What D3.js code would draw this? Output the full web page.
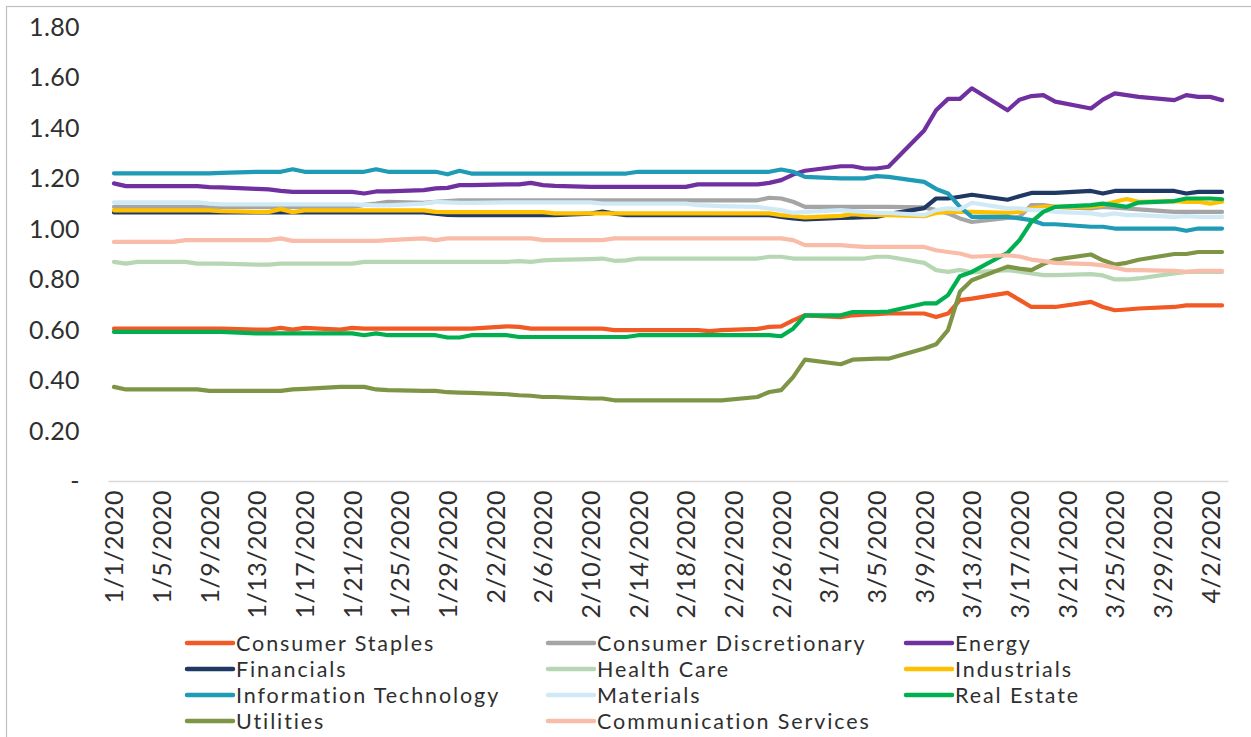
<!DOCTYPE html>
<html>
<head>
<meta charset="utf-8">
<script src="https://cdn.jsdelivr.net/npm/d3@7"></script>
<style>
  html, body { margin: 0; padding: 0; background: #fff; }
  svg { display: block; }
  text { font-family: Lato, "Noto Sans", sans-serif; fill: #2f2f2f; }
</style>
</head>
<body>
<svg id="chart" width="1251" height="737"></svg>
<script>
// ---------------- DATA ----------------
const dates = ["1/1/2020","1/2/2020","1/3/2020","1/6/2020","1/7/2020","1/8/2020","1/9/2020","1/10/2020",
"1/13/2020","1/14/2020","1/15/2020","1/16/2020","1/17/2020","1/20/2020","1/21/2020","1/22/2020","1/23/2020",
"1/24/2020","1/27/2020","1/28/2020","1/29/2020","1/30/2020","1/31/2020","2/3/2020","2/4/2020","2/5/2020",
"2/6/2020","2/7/2020","2/10/2020","2/11/2020","2/12/2020","2/13/2020","2/14/2020","2/17/2020","2/18/2020",
"2/19/2020","2/20/2020","2/21/2020","2/24/2020","2/25/2020","2/26/2020","2/27/2020","2/28/2020","3/2/2020",
"3/3/2020","3/4/2020","3/5/2020","3/6/2020","3/9/2020","3/10/2020","3/11/2020","3/12/2020","3/13/2020",
"3/16/2020","3/17/2020","3/18/2020","3/19/2020","3/20/2020","3/23/2020","3/24/2020","3/25/2020","3/26/2020",
"3/27/2020","3/30/2020","3/31/2020","4/1/2020","4/2/2020","4/3/2020"];

const consumerStaples = [
0.604,0.604,0.604,0.604,0.604,0.604,0.604,0.604,
0.600,0.600,0.607,0.600,0.607,0.600,0.607,
0.604,0.604,0.604,0.604,0.604,0.604,0.604,0.604,
0.613,0.611,0.604,0.604,0.604,0.604,0.604,
0.598,0.598,0.598,0.598,0.598,0.598,
0.594,0.598,0.603,0.611,0.613,0.637,0.657,
0.650,0.657,0.660,0.662,0.664,0.664,0.650,0.664,0.717,0.723,
0.746,0.718,0.690,0.690,0.690,0.710,0.690,0.677,0.680,0.684,0.690,0.696,0.696,0.696,0.696];

const consumerDiscretionary = [
1.087,1.087,1.087,1.087,1.087,1.087,1.087,1.087,1.087,1.087,1.087,1.087,1.087,1.087,1.087,
1.095,1.100,1.107,1.103,1.107,1.110,1.113,1.113,
1.113,1.113,1.113,1.113,1.113,1.113,1.113,1.113,1.113,1.113,1.113,1.113,1.113,1.113,1.113,1.113,
1.123,1.120,1.107,1.087,
1.087,1.087,1.087,1.087,1.087,1.085,
1.074,1.061,1.041,1.027,
1.043,1.047,1.094,1.094,1.087,1.081,1.087,1.084,1.081,1.077,1.067,1.067,1.067,1.067,1.067];

const energy = [
1.180,1.169,1.169,1.169,1.169,1.169,1.165,1.164,1.158,1.156,1.150,1.146,1.146,1.146,1.146,
1.140,1.148,1.148,1.153,1.160,1.162,1.173,1.173,1.176,1.176,1.182,1.173,1.170,
1.166,1.166,1.166,1.166,1.166,1.166,1.166,
1.176,1.176,1.176,1.176,1.182,1.193,1.215,1.230,
1.248,1.248,1.239,1.239,1.246,
1.390,1.470,1.515,1.515,1.557,
1.470,1.512,1.526,1.530,1.504,
1.477,1.512,1.537,1.530,1.523,
1.510,1.530,1.523,1.523,1.510];

const financials = [
1.065,1.065,1.065,1.065,1.065,1.065,1.065,1.065,1.065,1.065,1.065,1.065,1.065,1.065,1.065,1.065,1.065,1.065,1.065,
1.060,1.055,
1.054,1.054,1.054,1.054,1.054,1.054,1.054,
1.060,1.068,1.060,
1.054,1.054,1.054,1.054,1.054,1.054,1.054,1.054,1.054,
1.047,1.041,1.037,
1.043,1.044,1.046,1.047,1.058,
1.082,1.120,1.120,1.127,1.135,
1.115,1.129,1.142,1.142,1.142,
1.150,1.140,1.150,1.150,1.150,
1.150,1.140,1.146,1.146,1.146];

const healthCare = [
0.869,0.862,0.869,0.869,0.869,0.862,0.862,0.862,0.858,0.858,
0.862,0.862,0.862,0.862,0.862,
0.869,0.869,0.869,0.869,0.869,0.869,0.869,0.869,0.869,
0.872,0.869,0.875,0.877,0.880,0.882,0.873,0.875,
0.882,0.882,0.882,0.882,0.882,0.882,0.882,
0.889,0.889,
0.882,0.882,0.882,0.882,0.882,
0.889,0.889,0.865,0.836,0.829,0.837,0.827,
0.836,0.830,0.823,0.816,0.816,
0.820,0.815,0.799,0.799,0.803,
0.823,0.829,0.829,0.829,0.829];

const industrials = [
1.073,1.073,1.073,1.073,1.073,1.073,1.073,1.070,1.067,1.067,1.078,1.066,
1.073,1.073,1.073,1.073,1.073,1.073,1.073,
1.067,
1.066,1.066,1.066,1.066,1.066,1.066,1.066,
1.061,1.061,1.061,1.061,1.061,1.061,1.061,1.061,1.061,1.061,1.061,1.061,1.061,
1.054,1.050,1.045,
1.051,1.058,1.054,1.054,1.054,
1.050,1.063,1.067,1.067,1.067,
1.063,1.067,1.081,1.087,1.087,
1.087,1.094,1.107,1.118,1.107,
1.110,1.107,1.107,1.100,1.107];

const informationTechnology = [
1.220,1.220,1.220,1.220,1.220,1.220,1.220,1.222,
1.226,1.226,1.226,1.236,1.226,1.226,1.226,1.226,1.236,1.226,1.226,1.226,
1.216,1.230,
1.219,1.219,1.219,1.219,1.219,1.219,1.219,1.219,1.219,1.219,
1.226,1.226,1.226,1.226,1.226,1.226,1.226,1.226,
1.235,1.226,1.206,
1.200,1.200,1.200,1.209,1.206,
1.186,1.158,1.140,1.087,1.047,
1.047,1.041,1.034,1.018,1.018,
1.008,1.008,1.001,1.001,1.001,
1.001,0.992,1.001,1.001,1.001];

const materials = [
1.105,1.105,1.105,1.105,1.105,1.105,1.100,
1.097,1.097,1.097,1.097,1.097,1.097,1.097,1.097,
1.095,1.093,1.093,1.100,1.107,1.105,1.103,1.103,
1.105,1.105,1.105,1.105,1.105,1.105,
1.100,1.100,1.100,1.100,1.100,1.100,
1.094,1.092,1.090,1.087,1.080,
1.074,1.063,1.067,
1.074,1.070,1.067,1.063,1.063,
1.054,1.074,1.081,1.077,1.103,
1.081,1.081,1.074,1.074,1.067,
1.061,1.054,1.061,1.054,1.054,
1.047,1.050,1.047,1.047,1.047];

const realEstate = [
0.591,0.591,0.591,0.591,0.591,0.591,0.591,0.591,
0.585,0.585,0.585,0.585,0.585,0.585,0.585,
0.578,0.585,0.578,0.578,0.578,0.569,0.569,0.578,0.578,
0.571,0.571,0.571,0.571,0.571,0.571,0.571,0.571,
0.578,0.578,0.578,0.578,0.578,0.578,0.578,0.578,
0.574,0.604,0.657,
0.657,0.670,0.670,0.670,0.672,
0.704,0.704,0.737,0.812,0.829,
0.905,0.955,1.027,1.067,1.087,
1.094,1.100,1.094,1.087,1.104,
1.110,1.120,1.120,1.120,1.117];

const utilities = [
0.373,0.363,0.363,0.363,0.363,0.363,0.357,0.357,0.357,0.357,0.357,
0.363,0.365,0.373,0.373,0.373,
0.363,0.360,0.357,0.357,0.352,
0.350,0.349,0.344,0.340,0.338,
0.333,0.333,0.327,0.327,
0.320,0.320,0.320,0.320,0.320,0.320,0.320,0.320,
0.333,0.353,0.360,0.412,0.481,
0.463,0.481,0.483,0.485,0.485,
0.525,0.542,0.598,0.750,0.796,
0.850,0.842,0.836,0.860,0.878,
0.898,0.875,0.858,0.865,0.877,
0.900,0.900,0.908,0.908,0.908];

const communicationServices = [
0.948,0.948,0.948,0.948,
0.955,0.955,0.955,0.955,0.955,0.955,
0.962,
0.952,0.952,0.952,0.952,0.952,0.952,
0.955,0.962,0.955,
0.962,0.962,0.962,0.962,0.962,0.962,
0.955,0.955,0.955,0.955,
0.962,0.962,0.962,0.962,0.962,0.962,0.962,0.962,0.962,0.962,0.962,
0.955,0.935,
0.935,0.931,0.928,0.928,0.928,
0.928,0.915,0.908,0.902,0.889,
0.895,0.890,0.878,0.872,0.865,
0.860,0.855,0.846,0.836,0.836,
0.833,0.829,0.833,0.833,0.833];

const seriesNames = ["Consumer Staples","Consumer Discretionary","Energy","Financials","Health Care",
  "Industrials","Information Technology","Materials","Real Estate","Utilities","Communication Services"];
const seriesValues = [consumerStaples, consumerDiscretionary, energy, financials, healthCare,
  industrials, informationTechnology, materials, realEstate, utilities, communicationServices];
const seriesColors = ["#F15A24","#A5A5A5","#7030A0","#203864","#B7D7B4",
  "#FFC000","#1F9BB6","#CFEAF6","#00B050","#7F9546","#F8BCA8"];

const yTicks = [0, 0.2, 0.4, 0.6, 0.8, 1.0, 1.2, 1.4, 1.6, 1.8];
const xTickLabels = ["1/1/2020","1/5/2020","1/9/2020","1/13/2020","1/17/2020","1/21/2020","1/25/2020",
  "1/29/2020","2/2/2020","2/6/2020","2/10/2020","2/14/2020","2/18/2020","2/22/2020","2/26/2020","3/1/2020",
  "3/5/2020","3/9/2020","3/13/2020","3/17/2020","3/21/2020","3/25/2020","3/29/2020","4/2/2020"];

// ---------------- CHART ----------------
const parse = d3.timeParse("%m/%d/%Y");
const fmt = d3.timeFormat("%-m/%-d/%Y");
const parsedDates = dates.map(parse);
const half = 12 * 3600 * 1000;

const svg = d3.select("#chart");
svg.append("rect").attr("width", 1251).attr("height", 737).attr("fill", "#fff");
svg.append("rect").attr("x", 6.5).attr("y", 6.5).attr("width", 1300).attr("height", 800)
  .attr("fill", "none").attr("stroke", "#BFBFBF").attr("stroke-width", 1.2);

const x = d3.scaleTime()
  .domain([new Date(+parse("1/1/2020") - half), new Date(+parse("4/3/2020") + half)])
  .range([108, 1228]);
const y = d3.scaleLinear().domain([0, 1.8]).range([481, 27]);

// y labels
svg.append("g").selectAll("text").data(yTicks).join("text")
  .attr("x", 80).attr("y", d => y(d)).attr("dy", "0.36em")
  .attr("text-anchor", "end").style("font-size", "25px").style("letter-spacing", "0.4px")
  .text(d => d === 0 ? "-" : d3.format(".2f")(d));

// x axis
const xAxis = d3.axisBottom(x)
  .tickValues(xTickLabels.map(parse))
  .tickFormat(fmt).tickSize(0);
const gx = svg.append("g").attr("transform", "translate(0,481)").call(xAxis);
gx.select(".domain").attr("stroke", "#D9D9D9").attr("stroke-width", 1.5);
gx.selectAll("text")
  .attr("transform", "rotate(-90)")
  .attr("x", -9).attr("y", 0).attr("dy", "0.36em")
  .attr("text-anchor", "end")
  .style("font-size", "25px").style("letter-spacing", "0.5px")
  .style("font-family", "Lato, sans-serif").attr("fill", "#2f2f2f");

// lines
const line = d3.line().x((d, i) => x(parsedDates[i])).y(d => y(d));
svg.append("g").selectAll("path").data(seriesValues).join("path")
  .attr("d", d => line(d))
  .attr("fill", "none")
  .attr("stroke", (d, i) => seriesColors[i])
  .attr("stroke-width", 4.2)
  .attr("stroke-linejoin", "round")
  .attr("stroke-linecap", "round");

// legend
const colX = [187, 548, 906];
const rowY = [643, 669, 695, 721];
const lg = svg.append("g").selectAll("g").data(seriesNames).join("g")
  .attr("transform", (d, i) => `translate(${colX[i % 3]},${rowY[Math.floor(i / 3)]})`);
lg.append("line").attr("x1", 0).attr("x2", 46).attr("y1", 0).attr("y2", 0)
  .attr("stroke", (d, i) => seriesColors[i]).attr("stroke-width", 4.5).attr("stroke-linecap", "round");
lg.append("text").attr("x", 49).attr("y", 0).attr("dy", "0.36em")
  .style("font-size", "21.5px").style("letter-spacing", "1.9px").text(d => d);
</script>
</body>
</html>
